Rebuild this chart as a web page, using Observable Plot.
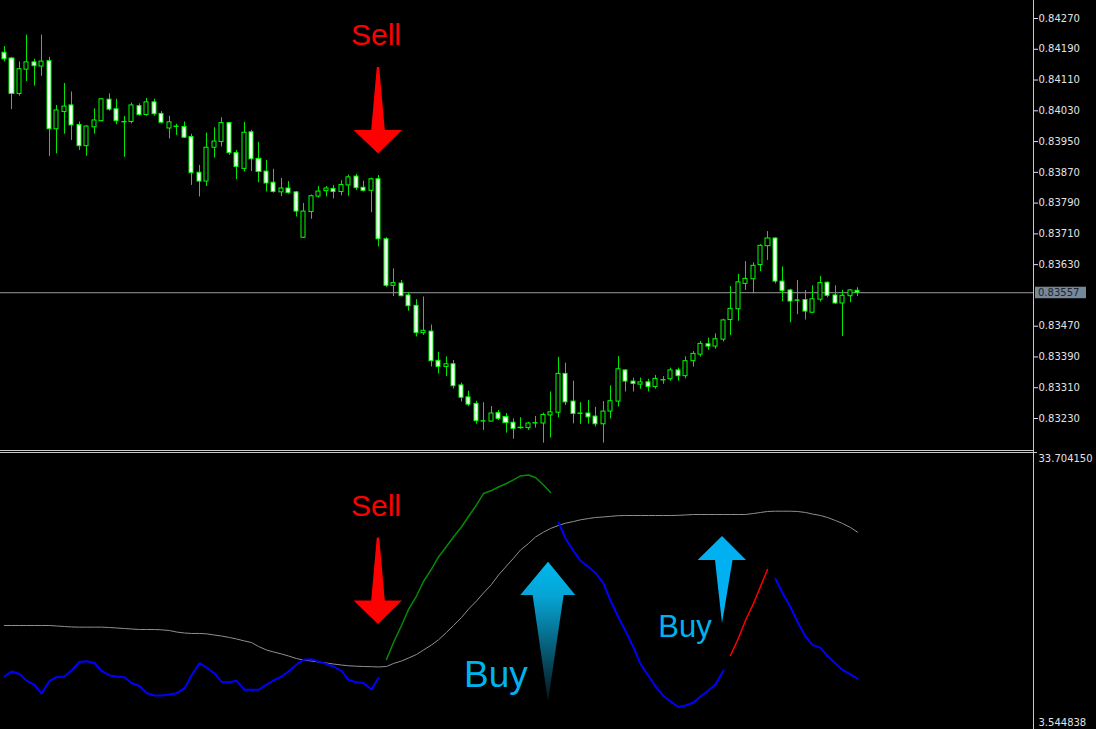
<!DOCTYPE html>
<html>
<head>
<meta charset="utf-8">
<script src="https://cdn.jsdelivr.net/npm/d3@7"></script>
<script src="https://cdn.jsdelivr.net/npm/@observablehq/plot@0.6"></script>
<style>
html, body { margin: 0; padding: 0; background: #000; }
#chart { width: 1096px; height: 729px; overflow: hidden; background: #000; }
#chart svg { display: block; }
</style>
</head>
<body>
<div id="chart"></div>
<script>
// ---------- price data (one bar each) ----------
const opens = [
0.84181,0.84166,0.84074,0.84137,0.84156,0.84145,0.84159,0.83982,0.84027,0.84044,
0.83993,0.83938,0.83987,0.84003,0.84059,0.84034,0.84000,0.84001,0.84042,0.84019,
0.84052,0.84022,0.83984,0.83988,0.83988,0.83962,0.83869,0.83846,0.83934,0.83949,
0.83998,0.83920,0.83879,0.83974,0.83905,0.83872,0.83843,0.83818,0.83828,0.83818,
0.83700,0.83767,0.83807,0.83821,0.83827,0.83819,0.83836,0.83859,0.83830,0.83822,
0.83852,0.83696,0.83575,0.83581,0.83550,0.83523,0.83452,0.83456,0.83380,0.83364,
0.83371,0.83316,0.83285,0.83268,0.83222,0.83222,0.83244,0.83234,0.83219,0.83206,
0.83205,0.83217,0.83217,0.83238,0.83245,0.83346,0.83274,0.83243,0.83243,0.83235,
0.83215,0.83248,0.83274,0.83355,0.83326,0.83318,0.83324,0.83312,0.83329,0.83332,
0.83355,0.83340,0.83379,0.83396,0.83423,0.83417,0.83435,0.83486,0.83514,0.83580,
0.83592,0.83629,0.83678,0.83698,0.83586,0.83563,0.83537,0.83538,0.83505,0.83539,
0.83583,0.83550,0.83529,0.83548,0.83562];
const highs = [
0.84197,0.84169,0.84157,0.84227,0.84164,0.84227,0.84169,0.84044,0.84101,0.84079,
0.84001,0.83991,0.84035,0.84062,0.84074,0.84060,0.84015,0.84050,0.84048,0.84062,
0.84060,0.84028,0.84016,0.83995,0.84001,0.83969,0.83888,0.83972,0.83986,0.84012,
0.84000,0.83927,0.84000,0.83979,0.83948,0.83901,0.83878,0.83854,0.83846,0.83820,
0.83789,0.83811,0.83833,0.83833,0.83836,0.83848,0.83863,0.83865,0.83847,0.83855,
0.83862,0.83700,0.83619,0.83589,0.83557,0.83539,0.83546,0.83473,0.83402,0.83390,
0.83381,0.83322,0.83301,0.83275,0.83271,0.83261,0.83251,0.83243,0.83229,0.83232,
0.83220,0.83235,0.83244,0.83299,0.83389,0.83374,0.83327,0.83271,0.83277,0.83259,
0.83274,0.83315,0.83391,0.83357,0.83335,0.83335,0.83332,0.83342,0.83339,0.83361,
0.83361,0.83390,0.83404,0.83430,0.83439,0.83450,0.83488,0.83573,0.83605,0.83638,
0.83635,0.83682,0.83716,0.83700,0.83624,0.83566,0.83589,0.83563,0.83575,0.83599,
0.83585,0.83575,0.83563,0.83565,0.83570];
const lows = [
0.84157,0.84033,0.84068,0.84106,0.84094,0.84120,0.83911,0.83918,0.83969,0.83953,
0.83927,0.83912,0.83969,0.84001,0.84029,0.83994,0.83909,0.83996,0.84016,0.84016,
0.84016,0.83996,0.83957,0.83966,0.83958,0.83836,0.83806,0.83833,0.83907,0.83936,
0.83914,0.83851,0.83871,0.83872,0.83843,0.83819,0.83816,0.83807,0.83813,0.83754,
0.83698,0.83748,0.83803,0.83806,0.83801,0.83809,0.83808,0.83823,0.83819,0.83765,
0.83676,0.83571,0.83547,0.83546,0.83509,0.83442,0.83446,0.83364,0.83346,0.83339,
0.83307,0.83273,0.83261,0.83215,0.83199,0.83221,0.83225,0.83192,0.83176,0.83202,
0.83199,0.83205,0.83166,0.83179,0.83232,0.83264,0.83216,0.83215,0.83215,0.83208,
0.83166,0.83229,0.83260,0.83299,0.83299,0.83306,0.83299,0.83306,0.83319,0.83327,
0.83327,0.83333,0.83364,0.83390,0.83407,0.83410,0.83429,0.83446,0.83483,0.83563,
0.83554,0.83612,0.83641,0.83580,0.83534,0.83479,0.83500,0.83486,0.83503,0.83533,
0.83544,0.83527,0.83443,0.83531,0.83547];
const closes = [
0.84164,0.84074,0.84138,0.84156,0.84146,0.84158,0.83982,0.84031,0.84041,0.83992,
0.83938,0.83989,0.84005,0.84060,0.84033,0.84003,0.84001,0.84044,0.84019,0.84052,
0.84021,0.83999,0.84000,0.83989,0.83960,0.83868,0.83846,0.83934,0.83950,0.83998,
0.83920,0.83884,0.83973,0.83904,0.83871,0.83841,0.83819,0.83828,0.83816,0.83768,
0.83768,0.83808,0.83820,0.83828,0.83819,0.83837,0.83857,0.83829,0.83822,0.83852,
0.83696,0.83575,0.83582,0.83548,0.83522,0.83452,0.83458,0.83379,0.83364,0.83371,
0.83314,0.83284,0.83266,0.83223,0.83223,0.83243,0.83229,0.83218,0.83203,0.83205,
0.83217,0.83218,0.83239,0.83246,0.83346,0.83272,0.83242,0.83242,0.83233,0.83215,
0.83248,0.83275,0.83358,0.83326,0.83320,0.83324,0.83312,0.83333,0.83330,0.83355,
0.83340,0.83379,0.83398,0.83424,0.83417,0.83436,0.83485,0.83515,0.83584,0.83593,
0.83627,0.83679,0.83698,0.83586,0.83561,0.83534,0.83536,0.83508,0.83540,0.83582,
0.83549,0.83529,0.83549,0.83563,0.83557];

const priceTicks = [0.84270,0.84190,0.84110,0.84030,0.83950,0.83870,0.83790,0.83710,0.83630,0.83470,0.83390,0.83310,0.83230];
const bidPrice = 0.83557;

// ---------- indicator data ----------
const indicatorMax = 33.704150;
const indicatorMin = 3.544838;
const greyLine = [
14.80,14.80,14.80,14.80,14.80,14.80,14.80,14.75,14.69,14.64,
14.62,14.62,14.62,14.62,14.58,14.53,14.47,14.42,14.36,14.36,
14.36,14.33,14.25,14.09,13.98,13.93,13.93,13.89,13.76,13.65,
13.49,13.33,13.11,12.94,12.51,12.12,11.91,11.69,11.47,11.19,
11.03,10.92,10.81,10.70,10.59,10.48,10.40,10.35,10.32,10.30,
10.27,10.32,10.65,10.92,11.25,11.63,12.12,12.67,13.24,14.04,
14.80,15.67,16.58,17.48,18.35,19.28,20.32,21.30,22.15,23.05,
23.76,24.47,25.00,25.40,25.73,25.98,26.16,26.35,26.49,26.60,
26.66,26.73,26.80,26.82,26.82,26.82,26.82,26.82,26.82,26.82,
26.84,26.88,26.93,26.93,26.93,26.93,26.93,26.93,26.93,26.93,
27.04,27.15,27.26,27.29,27.29,27.29,27.26,27.15,26.98,26.82,
26.60,26.27,25.95,25.51,25.00];
const blue1Start = 0;
const blue1 = [9.23,9.77,9.50,8.79,8.30,7.37,8.74,9.15,9.23,9.88,
10.81,10.90,10.70,9.83,9.34,9.23,9.15,8.52,8.19,7.43,
7.15,7.15,7.26,7.40,7.92,9.34,10.68,10.21,9.56,8.63,
8.61,8.77,7.77,7.77,7.77,8.35,8.79,9.23,9.77,10.54,
11.06,11.11,10.85,10.59,10.32,9.83,8.87,8.59,8.52,7.81,9.09];
const greenStart = 51;
const green = [11.09,12.94,14.80,16.55,18.02,19.61,20.97,22.29,23.43,24.47,25.56,26.71,
27.97,29.22,29.55,29.93,30.32,30.72,31.14,31.25,30.97,30.15,29.33];
const blue2Start = 74;
const blue2 = [26.06,24.31,22.94,21.87,21.19,20.54,19.39,17.53,15.67,14.20,12.40,10.59,
9.28,8.14,7.10,6.50,5.90,6.06,6.39,7.04,7.70,8.35,9.88];
const redStart = 97;
const red = [11.52,13.43,15.35,17.20,19.06,20.92];
const blue3Start = 103;
const blue3 = [19.90,18.35,16.82,15.18,13.60,12.69,12.36,11.47,10.65,9.94,9.45,8.98];

// ---------- signal annotations ----------
const signals = [
  {pane: "price", kind: "sell", label: "Sell", bar: 50, value: 0.83918},
  {pane: "ind", kind: "sell", label: "Sell", bar: 50, value: 14.91},
  {pane: "ind", kind: "buyBig", label: "Buy", bar: 72.65, value: 21.72},
  {pane: "ind", kind: "buySmall", label: "Buy", bar: 95.9, value: 24.53}
];

// ---------- styles ----------
const arrowShapes = {
  sell: {points: [[-1.2,-86.5],[1.2,-86.5],[6.8,-23.5],[24,-23.5],[0,0],[-24.4,-23.5],[-6.8,-23.5]],
         fill: "#ff0000", text: {dx: -2, dy: -108, size: 30, fill: "#ff0000"}},
  buyBig: {points: [[0,0],[27.3,33.3],[15.6,33.3],[0,140],[-15.4,33.3],[-27.7,33.3]],
         fill: "url(#buyGrad)", text: {dx: -52, dy: 125, size: 37, fill: "#00b2ee"}},
  buySmall: {points: [[0,0],[24,24],[10.5,24],[0,87.3],[-7,24],[-24.4,24]],
         fill: "#00b0f0", text: {dx: -37, dy: 101, size: 31, fill: "#00b2ee"}}
};
const lineColor = "#c8c8c8";
const labelColor = "#e2e2e2";

const candles = opens.map((o, i) => ({i, open: o, high: highs[i], low: lows[i], close: closes[i]}));
const rows = (start, arr) => arr.map((v, k) => ({i: start + k, v}));

const W = 1096;
const common = {
  width: W, marginLeft: 0, marginRight: 63,
  x: {domain: [-0.534, 137.47], round: true, axis: null},
  style: {background: "#000", color: labelColor, fontFamily: "DejaVu Sans, sans-serif", fontSize: "10px", overflow: "visible"}
};

function edges(sides) {
  return (index, scales, values, d) => {
    const g = d3.create("svg:g").attr("stroke", lineColor).attr("fill", "none");
    const r = d.width - d.marginRight, t = d.marginTop, b = d.height - d.marginBottom;
    if (sides.includes("right")) g.append("line").attr("x1", r + 0.5).attr("x2", r + 0.5).attr("y1", 0).attr("y2", d.height);
    if (sides.includes("bottom")) g.append("line").attr("x1", 0).attr("x2", r).attr("y1", b + 0.5).attr("y2", b + 0.5);
    if (sides.includes("top")) g.append("line").attr("x1", 0).attr("x2", r + 4).attr("y1", t + 0.5).attr("y2", t + 0.5);
    return g.node();
  };
}

function bidMark(index, scales, values, d) {
  const g = d3.create("svg:g");
  const y = scales.y(bidPrice);
  const x0 = d.width - d.marginRight;
  g.append("rect").attr("x", x0 + 2).attr("y", y - 5.5).attr("width", 51).attr("height", 11.5).attr("fill", "#778899");
  g.append("text").attr("x", x0 + 5).attr("y", y).attr("dy", "0.36em").attr("fill", "#1e242c")
    .attr("text-anchor", "start")
    .attr("font-family", "DejaVu Sans, sans-serif").attr("font-size", 10).text(d3.format(".5f")(bidPrice));
  return g.node();
}

function signalMark(list) {
  return (index, scales, values, d) => {
    const g = d3.create("svg:g");
    if (list.some(s => s.kind === "buyBig")) {
      const grad = g.append("defs").append("linearGradient").attr("id", "buyGrad")
        .attr("x1", 0).attr("y1", 0).attr("x2", 0).attr("y2", 1);
      [[0, "#00b8ee"], [0.25, "#06a4d4"], [1, "#061418"]].forEach(([o, c]) =>
        grad.append("stop").attr("offset", o).attr("stop-color", c));
    }
    for (const s of list) {
      const sh = arrowShapes[s.kind];
      const x = scales.x(s.bar), y = scales.y(s.value);
      g.append("polygon").attr("points", sh.points.map(([px, py]) => `${x + px},${y + py}`).join(" ")).attr("fill", sh.fill);
      g.append("text").attr("x", x + sh.text.dx).attr("y", y + sh.text.dy).attr("text-anchor", "middle")
        .attr("font-family", "Liberation Sans, Arial, sans-serif").attr("font-size", sh.text.size)
        .attr("fill", sh.text.fill).text(s.label);
    }
    return g.node();
  };
}

const pricePlot = Plot.plot({
  ...common,
  height: 451, marginTop: 0, marginBottom: 1,
  y: {domain: [0.831468, 0.843168]},
  marks: [
    Plot.ruleY([bidPrice], {stroke: "#9c9c9c"}),
    Plot.ruleX(candles, {x: "i", y1: "low", y2: "high", stroke: "#00e600"}),
    Plot.rect(candles, {filter: d => d.close < d.open, x1: d => d.i - 0.27, x2: d => d.i + 0.27, y1: "open", y2: "close", fill: "#ffffff", stroke: "#00ff00"}),
    Plot.rect(candles, {filter: d => d.close >= d.open, x1: d => d.i - 0.27, x2: d => d.i + 0.27, y1: "open", y2: "close", fill: "#000000", stroke: "#00ff00"}),
    Plot.axisY({anchor: "right", ticks: priceTicks, tickSize: 4, tickPadding: 1, tickFormat: ".5f", label: null, color: labelColor}),
    edges(["right", "bottom"]),
    bidMark,
    signalMark(signals.filter(s => s.pane === "price"))
  ]
});

const indPlot = Plot.plot({
  ...common,
  height: 278, marginTop: 1, marginBottom: 0,
  y: {domain: [3.436, indicatorMax], axis: null},
  marks: [
    Plot.line(rows(0, greyLine), {x: "i", y: "v", stroke: "#909090", strokeWidth: 1}),
    Plot.line(rows(blue1Start, blue1), {x: "i", y: "v", stroke: "#0000ff", strokeWidth: 2}),
    Plot.line(rows(greenStart, green), {x: "i", y: "v", stroke: "#068a06", strokeWidth: 1.5}),
    Plot.line(rows(blue2Start, blue2), {x: "i", y: "v", stroke: "#0000ff", strokeWidth: 2}),
    Plot.line(rows(redStart, red), {x: "i", y: "v", stroke: "#ff0000", strokeWidth: 1.5}),
    Plot.line(rows(blue3Start, blue3), {x: "i", y: "v", stroke: "#0000ff", strokeWidth: 2}),
    Plot.text([indicatorMax], {y: d => d, frameAnchor: "right", dx: 5, dy: 6, textAnchor: "start", text: d => d.toFixed(6), fill: labelColor}),
    Plot.text([indicatorMin], {y: d => d, frameAnchor: "right", dx: 5, dy: -6, textAnchor: "start", text: d => d.toFixed(6), fill: labelColor}),
    edges(["right", "top"]),
    signalMark(signals.filter(s => s.pane === "ind"))
  ]
});

const chart = document.getElementById("chart");
chart.appendChild(pricePlot);
chart.appendChild(indPlot);
</script>
</body>
</html>
